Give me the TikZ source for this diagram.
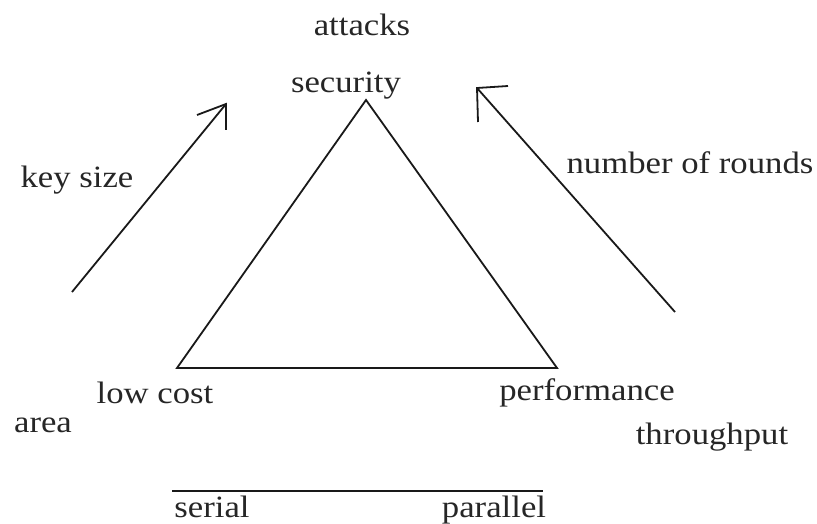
\documentclass[tikz,border=0pt]{standalone}
\usepackage{fontspec}
\setmainfont{Liberation Serif}[FakeStretch=1.12]
\begin{document}
\begin{tikzpicture}[x=1pt,y=-1pt,
  lbl/.style={font=\fontsize{31}{33}\selectfont, inner sep=0pt, text=black!85},
  ln/.style={line width=1.8pt, black!90}]
\useasboundingbox (0,0) rectangle (817,524);
% labels
\node[lbl] (attacks) at (362,25) {attacks};
\node[lbl] (security) at (346,86) {security};
\node[lbl] (keysize) at (77,180) {key size};
\node[lbl] (rounds) at (690,163) {number of rounds};
\node[lbl] (lowcost) at (155,393) {low cost};
\node[lbl] (perf) at (587,393) {performance};
\node[lbl] (area) at (43,425) {area};
\node[lbl] (through) at (712,437) {throughput};
\node[lbl, anchor=base] (serial) at (212,517) {serial};
\node[lbl, anchor=base] (parallel) at (494,517) {parallel};
% triangle
\coordinate (top) at (366,100);
\coordinate (bl) at (177,368);
\coordinate (br) at (557,368);
\draw[ln] (top) -- (bl) -- (br) -- cycle;
% left arrow
\coordinate (la0) at (72,292);
\coordinate (la1) at (226,104);
\coordinate (lb1) at (197,115);
\coordinate (lb2) at (226,130);
\draw[ln] (la0) -- (la1);
\draw[ln] (lb1) -- (la1) -- (lb2);
% right arrow
\coordinate (ra0) at (675,312);
\coordinate (ra1) at (477,88);
\coordinate (rb1) at (508,86);
\coordinate (rb2) at (478,122);
\draw[ln] (ra0) -- (ra1);
\draw[ln] (rb1) -- (ra1) -- (rb2);
% bottom line
\coordinate (s0) at (172,491);
\coordinate (s1) at (543,491);
\draw[ln] (s0) -- (s1);
\end{tikzpicture}
\end{document}
